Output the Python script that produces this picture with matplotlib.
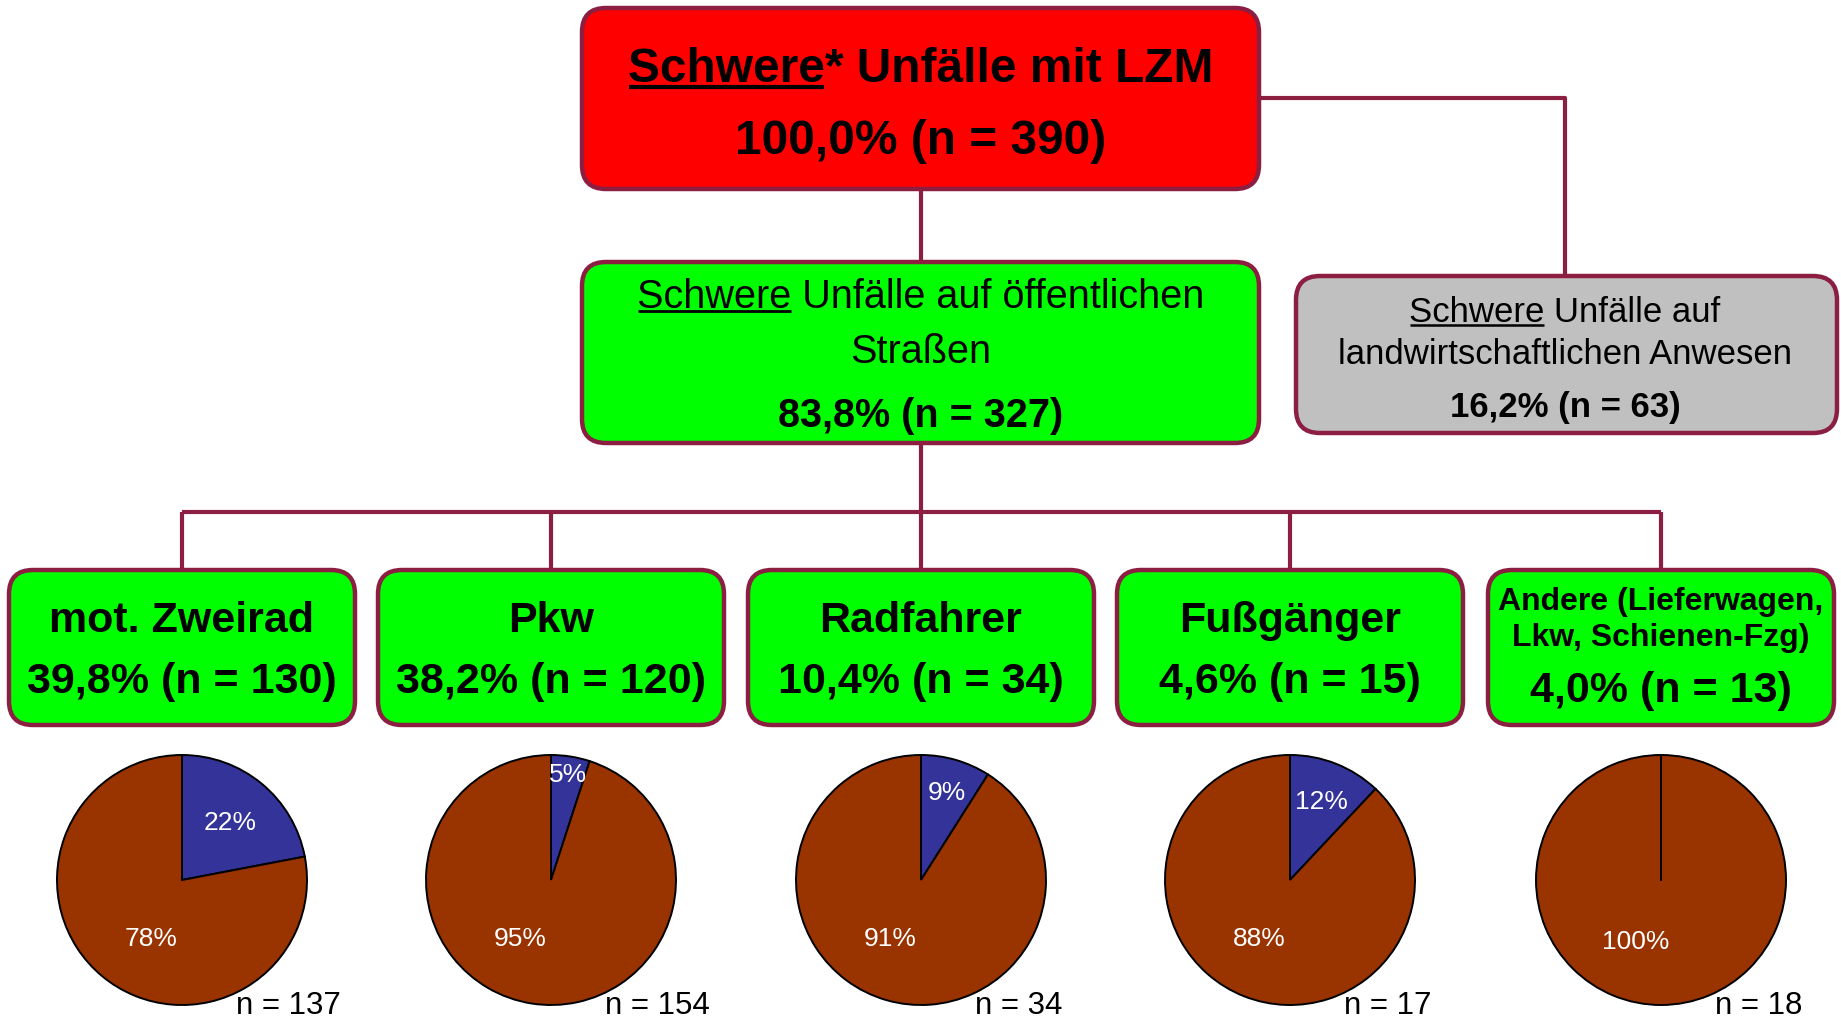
import matplotlib
matplotlib.use('Agg')
import matplotlib.pyplot as plt
from matplotlib.patches import FancyBboxPatch
import numpy as np

plt.rcParams['font.family'] = ['Liberation Sans', 'DejaVu Sans']

# Data
total_pct = 100.0
total_n = 390
road_pct = 83.8
road_n = 327
farm_pct = 16.2
farm_n = 63

categories = ['mot. Zweirad', 'Pkw', 'Radfahrer', 'Fußgänger',
              'Andere (Lieferwagen,\nLkw, Schienen-Fzg)']
cat_pct = [39.8, 38.2, 10.4, 4.6, 4.0]
cat_n = [130, 120, 34, 15, 13]

pie_blue = [22, 5, 9, 12, 0]
pie_brown = [78, 95, 91, 88, 100]
pie_n = [137, 154, 34, 17, 18]

# Colors
BORDER = '#8B1E41'
RED = '#FF0000'
GREEN = '#00FF00'
GRAY = '#C0C0C0'
BLUE = '#333399'
BROWN = '#993300'

W, H = 1841, 1020


def fmt(p, n):
    return f"{p:.1f}".replace('.', ',') + f"% (n = {n})"


fig = plt.figure(figsize=(W / 100, H / 100), dpi=100)
ax = fig.add_axes([0, 0, 1, 1])
ax.set_xlim(0, W)
ax.set_ylim(H, 0)
ax.axis('off')

renderer = fig.canvas.get_renderer()


def box(x0, y0, x1, y1, color):
    p = FancyBboxPatch((x0, y0), x1 - x0, y1 - y0,
                       boxstyle='round,pad=0,rounding_size=24',
                       facecolor=color, edgecolor=BORDER, linewidth=3.2, zorder=2)
    ax.add_patch(p)


def line(xs, ys):
    ax.plot(xs, ys, color=BORDER, lw=3, zorder=1, solid_capstyle='butt')


def underline(t, prefix, y, lw):
    bb = t.get_window_extent(renderer)
    tmp = ax.text(0, 0, prefix, fontsize=t.get_fontsize(),
                  fontweight=t.get_fontweight())
    w = tmp.get_window_extent(renderer).width
    tmp.remove()
    x0 = ax.transData.inverted().transform((bb.x0, 0))[0]
    x1 = ax.transData.inverted().transform((bb.x0 + w, 0))[0]
    ax.plot([x0 + 1, x1 - 1], [y, y], color='black', lw=lw, zorder=4,
            solid_capstyle='butt')


# Connectors
centers = [182, 551, 921, 1290, 1661]
line([1259, 1565, 1565], [99, 99, 277])
line([921, 921], [190, 263])
line([921, 921], [444, 513])
line([centers[0], centers[-1]], [513, 513])
for cx in centers:
    line([cx, cx], [513, 571])

# Top box
box(582, 9, 1259, 190, RED)
t = ax.text(921, 82, 'Schwere* Unfälle mit LZM', ha='center', va='baseline',
            fontsize=34.5, fontweight='bold', zorder=3)
underline(t, 'Schwere', 88, 3)
ax.text(921, 154, fmt(total_pct, total_n), ha='center', va='baseline',
        fontsize=34.5, fontweight='bold', zorder=3)

# Public roads box
box(582, 263, 1259, 444, GREEN)
t = ax.text(921, 308, 'Schwere Unfälle auf öffentlichen', ha='center',
            va='baseline', fontsize=28.5, zorder=3)
underline(t, 'Schwere', 312, 2)
ax.text(921, 363, 'Straßen', ha='center', va='baseline', fontsize=28.5, zorder=3)
ax.text(921, 427, fmt(road_pct, road_n), ha='center', va='baseline',
        fontsize=28.5, fontweight='bold', zorder=3)

# Farm box
box(1296, 277, 1837, 434, GRAY)
t = ax.text(1565, 322, 'Schwere Unfälle auf', ha='center', va='baseline',
            fontsize=25, zorder=3)
underline(t, 'Schwere', 326, 1.8)
ax.text(1565, 364, 'landwirtschaftlichen Anwesen', ha='center', va='baseline',
        fontsize=25, zorder=3)
ax.text(1565, 417, fmt(farm_pct, farm_n), ha='center', va='baseline',
        fontsize=25, fontweight='bold', zorder=3)

# Category boxes
for i, cx in enumerate(centers):
    box(cx - 173, 571, cx + 173, 726, GREEN)
    if '\n' in categories[i]:
        l1, l2 = categories[i].split('\n')
        ax.text(cx, 610, l1, ha='center', va='baseline', fontsize=23,
                fontweight='bold', zorder=3)
        ax.text(cx, 646, l2, ha='center', va='baseline', fontsize=23,
                fontweight='bold', zorder=3)
        ax.text(cx, 702, fmt(cat_pct[i], cat_n[i]), ha='center',
                va='baseline', fontsize=31, fontweight='bold', zorder=3)
    else:
        ax.text(cx, 632, categories[i], ha='center', va='baseline',
                fontsize=31, fontweight='bold', zorder=3)
        ax.text(cx, 693, fmt(cat_pct[i], cat_n[i]), ha='center',
                va='baseline', fontsize=31, fontweight='bold', zorder=3)

# Pies
pie_cy = 881
pie_r = 125
margin = 1.05
blue_label_r = [0.6, 0.86, 0.73, 0.68, 0.6]
for i, cx in enumerate(centers):
    rr = pie_r * margin
    pax = fig.add_axes([(cx - rr) / W, 1 - (pie_cy + rr) / H, 2 * rr / W, 2 * rr / H])
    pax.pie([pie_blue[i], pie_brown[i]], colors=[BLUE, BROWN], startangle=90,
            counterclock=False,
            wedgeprops=dict(edgecolor='black', linewidth=1.4))
    pax.set_xlim(-margin, margin)
    pax.set_ylim(-margin, margin)
    pax.set_aspect('equal')
    pax.axis('off')
    if pie_blue[i] > 0:
        a = np.deg2rad(90 - pie_blue[i] * 3.6 / 2)
        rl = blue_label_r[i]
        pax.text(rl * np.cos(a), rl * np.sin(a), f"{pie_blue[i]}%",
                 ha='center', va='center', color='white', fontsize=19)
    else:
        # zero-size slice still shows its boundary
        pax.plot([0, 0], [0, 1], color='black', lw=1.4)
    a = np.deg2rad(-112 if pie_blue[i] == 0 else -118)
    pax.text(0.53 * np.cos(a), 0.53 * np.sin(a), f"{pie_brown[i]}%",
             ha='center', va='center', color='white', fontsize=19)
    ax.text(cx + 54, 1014, f"n = {pie_n[i]}", ha='left', va='baseline',
            fontsize=22.5, zorder=3)

fig.savefig('out.png', dpi=100)
